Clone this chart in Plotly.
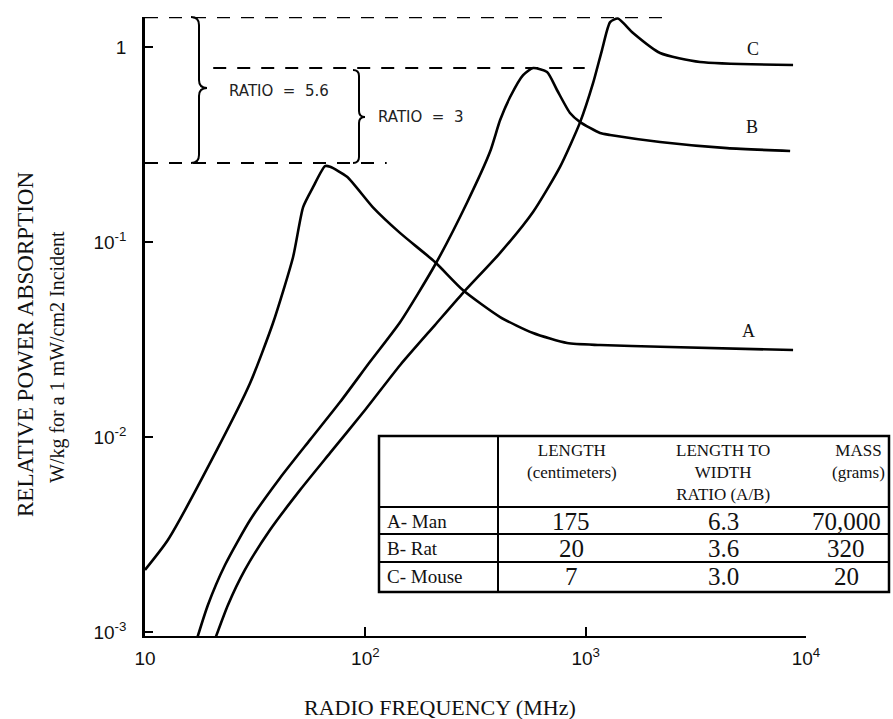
import plotly.graph_objects as go

# ---------------- data ----------------
freq_a = [10, 12.7, 21.2, 30.0, 38.1, 47.0, 52.2, 57.9, 65.6, 69.2, 82.6, 108, 144, 207, 277, 409, 577, 824, 1162, 2176, 8736]
abs_a = [0.00208, 0.00296, 0.00858, 0.0189, 0.0384, 0.0838, 0.151, 0.191, 0.245, 0.243, 0.216, 0.151, 0.111,
         0.0789, 0.0567, 0.0412, 0.0341, 0.0303, 0.0296, 0.0290, 0.0279]

freq_b = [17.2, 19.3, 23.1, 30.0, 41.0, 56.1, 76.8, 105, 144, 207, 290, 368, 409, 454, 520, 577, 668, 741, 849, 944,
          1162, 1291, 2176, 4383, 8472]
abs_b = [0.00092, 0.001375, 0.00221, 0.00375, 0.00616, 0.00966, 0.0151, 0.0243, 0.0389, 0.0762, 0.160, 0.290,
         0.422, 0.554, 0.718, 0.780, 0.744, 0.602, 0.459, 0.412, 0.362, 0.354, 0.326, 0.303, 0.293]

freq_c = [20.8, 23.8, 28.4, 36.9, 50.6, 69.2, 99.7, 144, 207, 277, 409, 577, 765, 944, 1081, 1186, 1291, 1400,
          1641, 2176, 3306, 8736]
abs_c = [0.00092, 0.001375, 0.00208, 0.00333, 0.00535, 0.00828, 0.01375, 0.0234, 0.0375, 0.0547, 0.0879, 0.1426,
         0.243, 0.412, 0.654, 0.965, 1.343, 1.40, 1.18, 0.932, 0.838, 0.809]

curve_names = ["A", "B", "C"]

# ratio reference levels (peak of C, peak of B, peak of A)
level_c = 1.42
level_b = 0.78
level_a = 0.254
ratio_labels = ["RATIO  =  5.6", "RATIO  =  3"]

x_tickvals = [10, 100, 1000, 10000]
x_ticktext = ["10", "10<sup>2</sup>", "10<sup>3</sup>", "10<sup>4</sup>"]
y_tickvals = [1, 0.1, 0.01, 0.001]
y_ticktext = ["1", "10<sup>-1</sup>", "10<sup>-2</sup>", "10<sup>-3</sup>"]

table_header = ["LENGTH<br>(centimeters)", "LENGTH TO<br>WIDTH<br>RATIO (A/B)", "MASS<br>(grams)"]
table_rows = ["A- Man", "B- Rat", "C- Mouse"]
table_length = ["175", "20", "7"]
table_ratio = ["6.3", "3.6", "3.0"]
table_mass = ["70,000", "320", "20"]

# ---------------- layout helpers (pixel -> paper) ----------------
W, H = 893, 719
L, R, T, B = 145, 87, 17, 83
PW, PH = W - L - R, H - T - B


def px(x):
    return (x - L) / PW


def py(y):
    return (H - B - y) / PH


fig = go.Figure()

line_style = dict(color="black", width=2.6, shape="spline", smoothing=0.6)
for fx, fy, nm in [(freq_a, abs_a, "A"), (freq_b, abs_b, "B"), (freq_c, abs_c, "C")]:
    fig.add_trace(go.Scatter(x=fx, y=fy, mode="lines", line=line_style, name=nm, showlegend=False,
                             hoverinfo="x+y+name"))

dash_style = dict(color="black", width=2, dash="13px,11px")
fig.add_trace(go.Scatter(x=[10, 2220], y=[level_c, level_c], mode="lines", line=dash_style, showlegend=False))
fig.add_trace(go.Scatter(x=[20.4, 990], y=[level_b, level_b], mode="lines", line=dash_style, showlegend=False))
fig.add_trace(go.Scatter(x=[10, 125], y=[level_a, level_a], mode="lines", line=dash_style, showlegend=False))


def brace(xc, ytop, ybot, ymid, w=6):
    pts = [
        f"M {px(xc - w)} {py(ytop)}",
        f"Q {px(xc)} {py(ytop)} {px(xc)} {py(ytop + w)}",
        f"L {px(xc)} {py(ymid - w)}",
        f"Q {px(xc)} {py(ymid)} {px(xc + w)} {py(ymid)}",
        f"Q {px(xc)} {py(ymid)} {px(xc)} {py(ymid + w)}",
        f"L {px(xc)} {py(ybot - w)}",
        f"Q {px(xc)} {py(ybot)} {px(xc - w)} {py(ybot)}",
    ]
    return " ".join(pts)


shapes = []
shapes.append(dict(type="path", xref="paper", yref="paper", path=brace(199, 17, 163, 88, 8),
                   line=dict(color="black", width=2)))
shapes.append(dict(type="path", xref="paper", yref="paper", path=brace(359, 70, 163, 117, 6),
                   line=dict(color="black", width=2)))

# table
tl, tr, tt, tb = 379, 889, 436, 592
hdr_b, r1_b, r2_b, col1 = 507, 534, 562, 498
tline = dict(color="black", width=2)
shapes.append(dict(type="rect", xref="paper", yref="paper", x0=px(tl), x1=px(tr), y0=py(tt), y1=py(tb),
                   line=dict(color="black", width=2.5), fillcolor="white", layer="above"))
for yy in [hdr_b, r1_b, r2_b]:
    shapes.append(dict(type="line", xref="paper", yref="paper", x0=px(tl), x1=px(tr), y0=py(yy), y1=py(yy),
                       line=tline, layer="above"))
shapes.append(dict(type="line", xref="paper", yref="paper", x0=px(col1), x1=px(col1), y0=py(tt), y1=py(tb),
                   line=tline, layer="above"))

annotations = []
serif = "Liberation Serif"


def ann(x, y, text, size, family=serif, color="#111", **kw):
    d = dict(xref="paper", yref="paper", x=px(x), y=py(y), text=text, showarrow=False,
             xanchor="center", yanchor="middle", font=dict(family=family, size=size, color=color))
    d.update(kw)
    annotations.append(d)


hdr_centers = [572, 723, 858]
for cx, txt in zip(hdr_centers, table_header):
    ann(cx, 439, txt, 17, yanchor="top", align="center")
val_centers = [571, 723, 846]
row_centers = [521, 548, 576]
for ry, lab, a, b_, c in zip(row_centers, table_rows, table_length, table_ratio, table_mass):
    ann(385, ry, lab, 19, xanchor="left")
    for cx, v in zip(val_centers, [a, b_, c]):
        ann(cx, ry, v, 25)

# curve labels
for (lx, ly), nm in zip([(748, 331), (752, 127), (753, 49)], curve_names):
    ann(lx, ly, nm, 18)

# ratio labels
for (lx, ly), txt in zip([(279, 91), (421, 117)], ratio_labels):
    ann(lx, ly, txt, 15, family="DejaVu Sans", color="#222")

# axis titles
ann(440, 707, "RADIO FREQUENCY (MHz)", 22)
ann(25, 345, "RELATIVE POWER ABSORPTION", 23, textangle=-90)
ann(58, 357, "W/kg for a 1 mW/cm2 Incident", 20, textangle=-90)

fig.update_layout(
    width=W, height=H,
    margin=dict(l=L, r=R, t=T, b=B, autoexpand=False),
    paper_bgcolor="white", plot_bgcolor="white",
    shapes=shapes, annotations=annotations,
    showlegend=False,
    xaxis=dict(type="log", range=[1, 4], tickvals=x_tickvals, ticktext=x_ticktext,
               ticks="inside", ticklen=9, tickwidth=1.5, tickcolor="black",
               showline=True, linewidth=2, linecolor="black", showgrid=False, zeroline=False,
               tickfont=dict(family="Liberation Sans", size=19, color="#111"), ticklabelstandoff=4),
    yaxis=dict(type="log", range=[-3.021, 0.154], tickvals=y_tickvals, ticktext=y_ticktext,
               ticks="inside", ticklen=8, tickwidth=1.5, tickcolor="black",
               showline=True, linewidth=2.5, linecolor="black", showgrid=False, zeroline=False,
               tickfont=dict(family="Liberation Sans", size=19, color="#111"), ticklabelstandoff=12),
)

fig.write_html("out.html", config={"displayModeBar": False},
               post_script="document.body.style.margin='0';")
